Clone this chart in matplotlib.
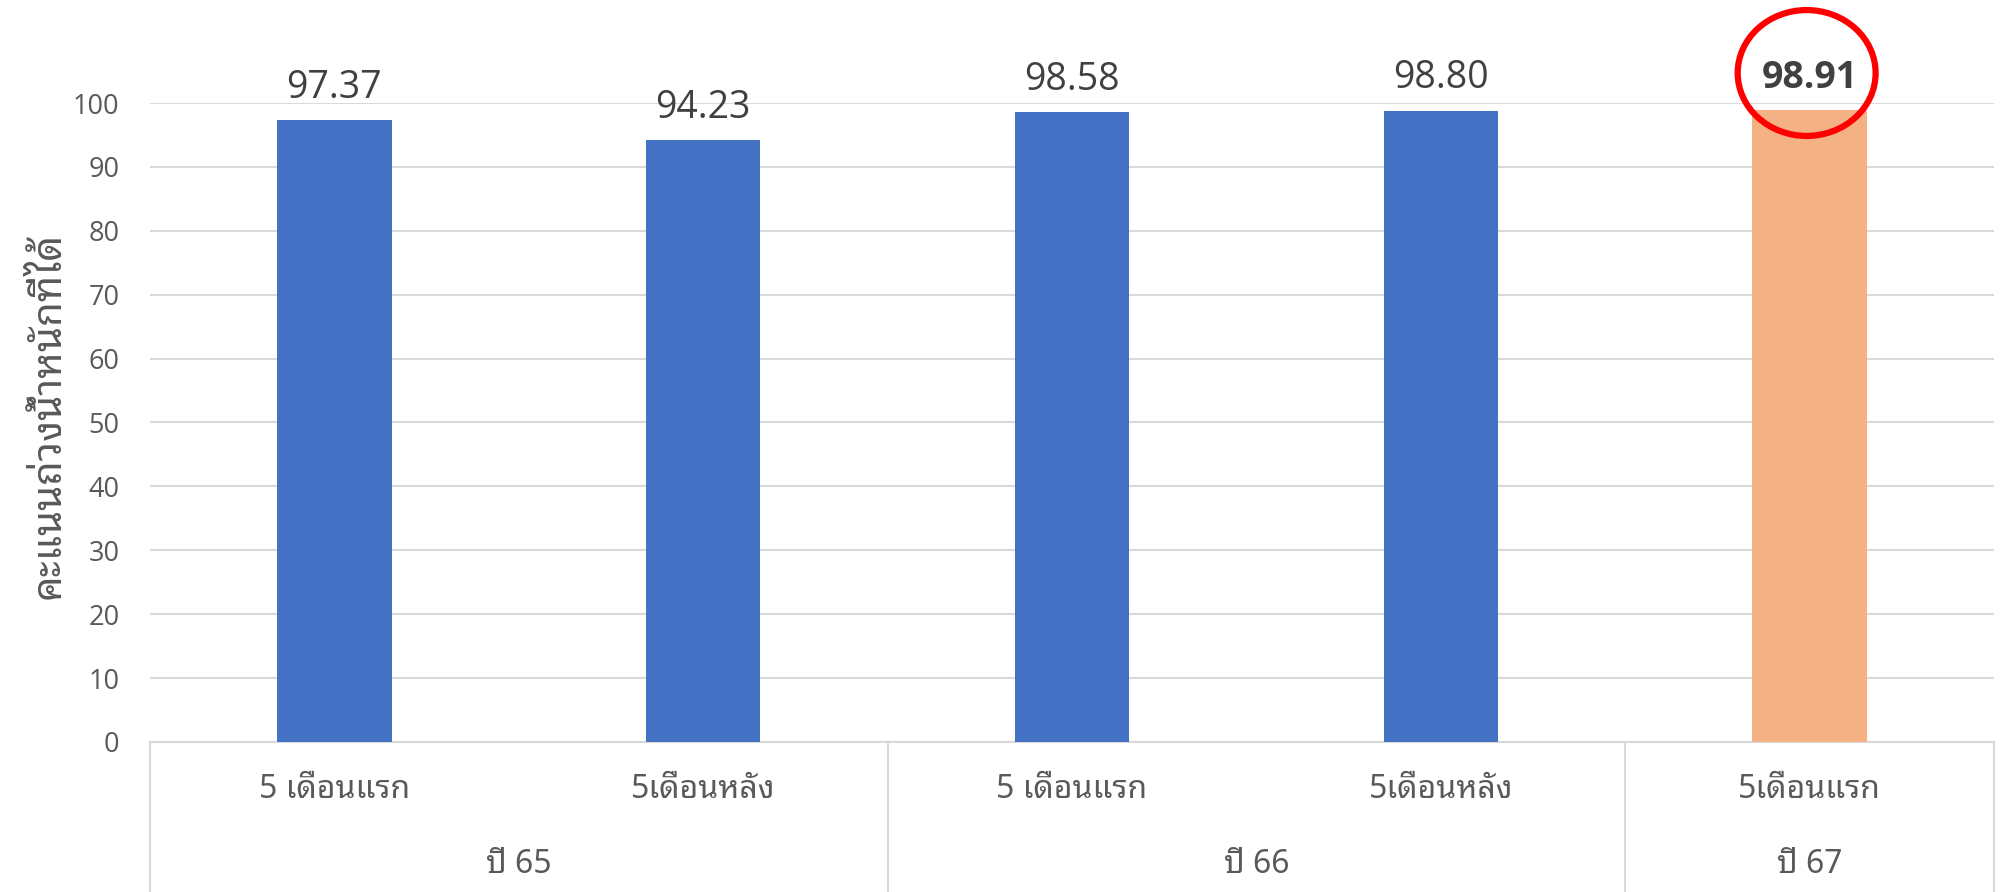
import matplotlib
matplotlib.use("Agg")
import matplotlib.pyplot as plt
from matplotlib.patches import Ellipse
import matplotlib.transforms as mtransforms

# ---- data ----
sub_labels = ["5 เดือนแรก", "5เดือนหลัง", "5 เดือนแรก", "5เดือนหลัง", "5เดือนแรก"]
group_labels = ["ปี 65", "ปี 66", "ปี 67"]
group_sizes = [2, 2, 1]
values = [97.37, 94.23, 98.58, 98.80, 98.91]
value_texts = ["97.37", "94.23", "98.58", "98.80", "98.91"]
highlight_index = 4
y_ticks = [0, 10, 20, 30, 40, 50, 60, 70, 80, 90, 100]
y_label = "คะแนนถ่วงน้ำหนักที่ได้"

BLUE = "#4472C4"
ORANGE = "#F4B183"
GRID = "#D9D9D9"
TICK_C = "#595959"
VAL_C = "#404040"
THAI = ["Noto Sans Thai Looped", "Noto Sans Thai", "DejaVu Sans"]
NUM = ["Open Sans", "DejaVu Sans"]

fig = plt.figure(figsize=(20, 8.92), dpi=100)
ax = fig.add_axes([0.075, 0.1682, 0.922, 0.7163])

x = list(range(len(values)))
colors = [ORANGE if i == highlight_index else BLUE for i in x]
ax.bar(x, values, width=0.31, color=colors, zorder=3)

ax.set_xlim(-0.5, len(values) - 0.5)
ax.set_ylim(0, 100)
ax.set_yticks(y_ticks)
ax.set_yticklabels([str(t) for t in y_ticks], fontsize=19.5, color=TICK_C, family=NUM)
ax.tick_params(axis="y", length=0, pad=22)
ax.set_xticks([])
ax.grid(axis="y", color=GRID, linewidth=1.5, zorder=0)
for s in ["left", "right", "top"]:
    ax.spines[s].set_visible(False)
ax.spines["bottom"].set_color(GRID)
ax.spines["bottom"].set_linewidth(1.5)

# value labels
for i, (v, t) in enumerate(zip(values, value_texts)):
    bold = i == highlight_index
    ax.annotate(t, (i, v), xytext=(0, 16), textcoords="offset points",
                ha="center", va="baseline", fontsize=27, color=VAL_C,
                family=NUM, fontweight="bold" if bold else "normal", zorder=5)

# highlight circle
ax.add_patch(Ellipse((highlight_index - 0.008, 104.7), width=0.374, height=19.7,
                     fill=False, edgecolor="#FF0000", linewidth=4.5,
                     clip_on=False, zorder=6))

# multi-level category axis
trans = mtransforms.blended_transform_factory(ax.transData, ax.transAxes)
edges = [-0.5]
for g in group_sizes:
    edges.append(edges[-1] + g)
for e in edges:
    ax.plot([e, e], [0, -0.3], transform=trans, color=GRID, linewidth=1.5,
            clip_on=False, zorder=1)
for i, lab in enumerate(sub_labels):
    ax.text(i, -0.075, lab, transform=trans, ha="center", va="center",
            fontsize=23, color=TICK_C, family=THAI)
for gi, lab in enumerate(group_labels):
    center = (edges[gi] + edges[gi + 1]) / 2
    ax.text(center, -0.191, lab, transform=trans, ha="center", va="center",
            fontsize=23, color=TICK_C, family=THAI)

fig.text(50 / 2000, 1 - 415 / 892, y_label, rotation=90, ha="center", va="center",
         fontsize=29, fontweight="bold", color=TICK_C, family=THAI)

fig.savefig("out.png", dpi=100)
